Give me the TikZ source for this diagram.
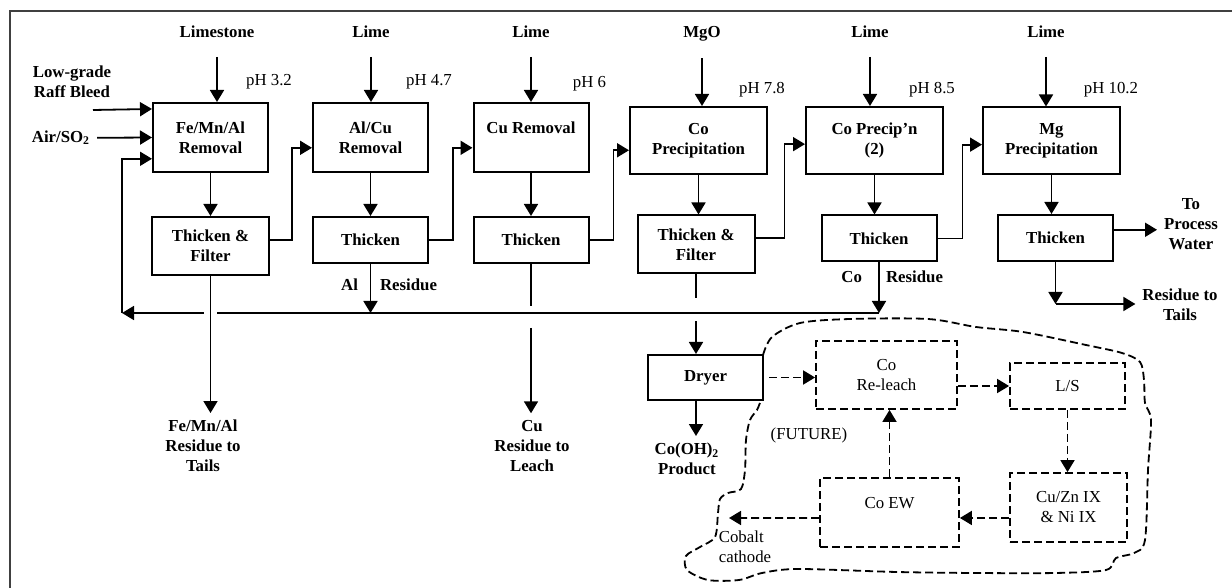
\documentclass[tikz,border=0pt]{standalone}
\usepackage{fontspec}
\setmainfont{Liberation Serif}
\usetikzlibrary{arrows.meta,positioning}
\newcommand\fsz{\fontsize{8.4}{10}\selectfont}

\tikzset{
  unit/.style={draw, line width=1pt, align=center, font=\fsz\bfseries, inner sep=0pt},
  stage/.style={unit, minimum width=57.5pt, minimum height=34.5pt},
  stagew/.style={unit, minimum width=68.5pt, minimum height=33.5pt},
  settler/.style={unit, minimum width=57.5pt, minimum height=23pt},
  filterbox/.style={unit, minimum width=58.5pt, minimum height=29pt},
  future/.style={draw, line width=0.9pt, dash pattern=on 4pt off 2pt, align=center, inner sep=0pt, font=\fsz},
  feed/.style={font=\fsz\bfseries, align=center},
  ph/.style={font=\fsz},
  flow/.style={-{Triangle[length=6pt,width=7pt]}, line width=0.9pt},
  dflow/.style={flow, dash pattern=on 4pt off 2pt},
  pipe/.style={line width=0.9pt},
  cloudline/.style={line width=0.9pt, dash pattern=on 4pt off 2pt},
}

\begin{document}
\begin{tikzpicture}[x=0.5pt, y=-0.5pt]
\useasboundingbox (0,0) rectangle (1232,588);
\draw[line width=1pt, black!75] (10,588) -- (10,11) -- (1232,11);

% process stages
\node[stage] (fe) at (210.5,137.5) {Fe/Mn/Al\\Removal};
\node[stage] (alcu) at (370.5,137.5) {Al/Cu\\Removal};
\node[stage] (cu) at (531,137.5) {Cu Removal\\~};
\node[stagew] (copp) at (698.5,140.5) {Co\\Precipitation};
\node[stagew] (copp2) at (874.5,140.5) {Co Precip'n\\(2)};
\node[stagew] (mg) at (1051.5,141) {Mg\\Precipitation};

\node[filterbox] (thfe) at (210.5,246) {Thicken \&\\Filter};
\node[settler] (thalcu) at (370.5,240) {Thicken};
\node[settler] (thcu) at (531,240) {Thicken};
\node[filterbox] (thco) at (696,244.5) {Thicken \&\\Filter};
\node[settler] (thco2) at (879,238.5) {Thicken};
\node[settler] (thmg) at (1055.5,238) {Thicken};
\node[unit, minimum width=57.5pt, minimum height=22.5pt] (dryer) at (705.5,377.5) {Dryer};

% future circuit
\node[future, minimum width=70.5pt, minimum height=34pt] (releach) at (886.5,375) {Co\\Re-leach};
\node[future, minimum width=57.5pt, minimum height=23pt] (ls) at (1067.5,386) {L/S};
\node[future, minimum width=58.5pt, minimum height=34.5pt] (ix) at (1068.5,507.5) {Cu/Zn IX\\\& Ni IX};
\node[future, minimum width=69.5pt, minimum height=34.5pt] (ew) at (889.5,512.5) {Co EW\\~};
\node[ph] (futurelbl) at (809,435) {(FUTURE)};
\node[ph, align=left] (cathode) at (745,547) {Cobalt\\cathode};

% reagents and streams
\node[feed] (limestone) at (217,32) {Limestone};
\node[feed] (lime1) at (371,32) {Lime};
\node[feed] (lime2) at (531,32) {Lime};
\node[feed] (mgo) at (702,34) {MgO};
\node[feed] (lime3) at (870,32) {Lime};
\node[feed] (lime4) at (1046,32) {Lime};
\node[feed] (raff) at (72,82) {Low-grade\\Raff Bleed};
\node[feed] (air) at (61,138) {Air/SO\textsubscript{2}};

\node[ph, above=3pt of fe.north east] (ph1) {pH 3.2};
\node[ph, above=3pt of alcu.north east] (ph2) {pH 4.7};
\node[ph, above=2pt of cu.north east] (ph3) {pH 6};
\node[ph, above=1pt of copp.north east, xshift=-3pt] (ph4) {pH 7.8};
\node[ph, above=1pt of copp2.north east, xshift=-6pt] (ph5) {pH 8.5};
\node[ph, above=1pt of mg.north east, xshift=-5pt] (ph6) {pH 10.2};

\node[feed] (fetails) at (203,446) {Fe/Mn/Al\\Residue to\\Tails};
\node[feed] (cutails) at (532,446) {Cu\\Residue to\\Leach};
\node[feed] (coprod) at (687,459) {Co(OH)\textsubscript{2}\\Product};
\node[feed] (water) at (1191,224) {To\\Process\\Water};
\node[feed] (mgtails) at (1180,305) {Residue to\\Tails};
\node[feed, anchor=east] (allbl) at (365,285) {Al};
\node[feed, anchor=west] (alreslbl) at (373,285) {Residue};
\node[feed, anchor=east] (colbl) at (869,277) {Co};
\node[feed, anchor=west] (coreslbl) at (879,277) {Residue};

\coordinate (rafffeed) at (93,110);
\coordinate (ret) at (122,313);
\coordinate (cores) at (thco2.south |- ret);
\coordinate (cathodeout) at (729,518);

% reagent feeds and stage to thickener
\path[flow]
  (limestone.south) edge[shorten <=6pt] (limestone.south |- fe.north)
  (lime1.south) edge[shorten <=6pt] (lime1.south |- alcu.north)
  (lime2.south) edge[shorten <=6pt] (lime2.south |- cu.north)
  (mgo.south) edge[shorten <=5pt] (mgo.south |- copp.north)
  (lime3.south) edge[shorten <=6pt] (lime3.south |- copp2.north)
  (lime4.south) edge[shorten <=6pt] (lime4.south |- mg.north)
  (fe) edge (thfe)
  (alcu) edge (thalcu)
  (cu) edge (thcu)
  (copp.south) edge (copp.south |- thco.north)
  (copp2.south) edge (copp2.south |- thco2.north)
  (mg.south) edge (mg.south |- thmg.north);

% overflow to next stage
\draw[flow] (thfe.6) -- ++(22,0) |- (alcu.190);
\draw[flow] (thalcu.east) -- ++(24,0) |- (cu.190);
\draw[flow] (thcu.east) -- ++(24,0) |- (copp.188);
\draw[flow] (thco.6) -- ++(29,0) |- (copp2.183);
\draw[flow] (thco2.east) -- ++(25,0) |- (mg.183);

% feeds to first stage
\draw[flow] (rafffeed) -- (fe.154);
\draw[flow] (air) -- (fe.west);

% residues
\draw[pipe] (thcu.south) -- ++(0,42);
\draw[flow] (thcu.south) ++(0,64) -- (thcu.south |- cutails.north);
\draw[pipe] (thco.south) -- ++(0,24);
\draw[flow] (thco.south) ++(0,47) -- (thco.south |- dryer.north);
\draw[flow] (dryer.south -| thco.south) -- (thco.south |- coprod.north);
\draw[flow] (cores) -- (ret);
\draw[flow] (ret) |- (fe.200);
\draw[flow, preaction={draw, white, line width=6.5pt, -, shorten <=12pt}] (thfe.south) -- (thfe.south |- fetails.north);
\draw[flow] (thalcu.south) -- (thalcu.south |- ret);
\draw[flow] (thco2.south) -- (cores);
\draw[flow] (thmg.south) -- ++(0,42) coordinate (mgbend);
\draw[flow] (mgbend) -- (mgbend -| mgtails.west);
\draw[flow] (thmg.8) -- (thmg.8 -| water.west);

% future circuit
\draw[dflow, shorten <=2.5pt] (dryer.east) -- (releach.west |- dryer.east);
\draw[dflow] (releach.east |- ls) -- (ls.west);
\draw[dflow] (ls.south) -- (ls.south |- ix.north);
\draw[dflow] (ix.190) -- (ix.190 -| ew.east);
\draw[dflow] (ew.north) -- (ew.north |- releach.south);
\draw[dflow] (ew.west |- ix.190) -- (cathodeout);

\draw[cloudline] plot[smooth, tension=0.5] coordinates {
  (763,355) (772,337) (800,323) (850,319) (928,319) (976,327) (1023,332)
  (1086,345) (1122,353) (1140,362) (1144,380) (1145,403) (1151,420)
  (1148,470) (1145,540) (1134,553) (1116,558) (1106,570) (1055,573)
  (976,573) (897,572) (798,569) (762,573) (739,580) (708,580) (687,570)
  (686,556) (700,547) (715,537) (718,513) (720,499) (728,493) (741,489)
  (745,470) (746,440) (750,420) (757,410) (761,400)};
\end{tikzpicture}
\end{document}
